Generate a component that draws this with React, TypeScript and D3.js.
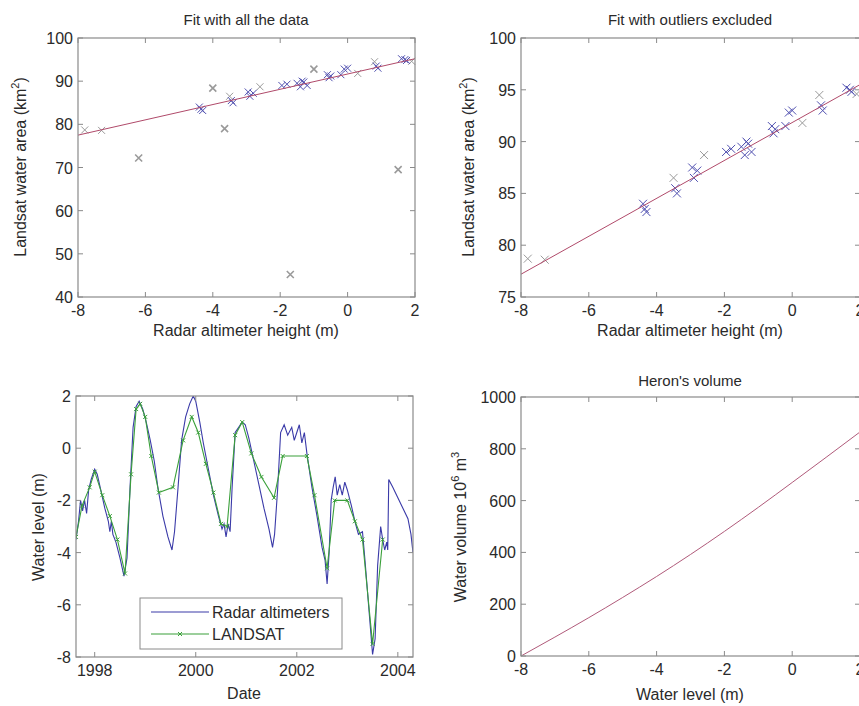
import React from "react";
import * as d3 from "d3";

// ---------- Data ----------
// Scatter: radar altimeter height (m) vs Landsat water area (km2)
const blueH = [-4.4, -4.35, -4.3, -3.45, -3.4, -2.95, -2.9, -2.8, -1.95, -1.8, -1.5, -1.4, -1.35, -1.3, -1.2, -0.6, -0.55, -0.5, -0.2, -0.1, 0.0, 0.85, 0.9, 1.6, 1.7, 1.75];
const blueA = [84.0, 83.5, 83.2, 85.5, 85.0, 87.5, 86.5, 87.2, 89.0, 89.3, 89.5, 88.7, 90.0, 89.8, 89.0, 91.5, 90.8, 91.2, 91.5, 92.8, 93.0, 93.5, 93.0, 95.2, 95.0, 94.8];
const grayH = [-7.8, -7.3, -3.5, -2.6, 0.3, 0.8, 1.9];
const grayA = [78.7, 78.6, 86.5, 88.7, 91.8, 94.5, 94.6];
const outlierH = [-6.2, -3.65, -1.7, 1.5, -4.0, -1.0];
const outlierA = [72.2, 79.0, 45.2, 69.5, 88.4, 92.8];
const fitH = [-8, 2];
const fitAllA = [77.5, 95.2];
const fitCleanA = [77.2, 95.5];

// Time series
const radarDate = [1997.63, 1997.68, 1997.72, 1997.76, 1997.8, 1997.84, 1997.88, 1997.93, 1998.0, 1998.05, 1998.12, 1998.2, 1998.27, 1998.3, 1998.33, 1998.36, 1998.42, 1998.5, 1998.58, 1998.64, 1998.7, 1998.76, 1998.82, 1998.88, 1998.95, 1999.02, 1999.1, 1999.18, 1999.25, 1999.35, 1999.45, 1999.53, 1999.58, 1999.65, 1999.72, 1999.8, 1999.88, 1999.95, 2000.0, 2000.08, 2000.15, 2000.25, 2000.35, 2000.45, 2000.52, 2000.56, 2000.6, 2000.64, 2000.68, 2000.72, 2000.78, 2000.85, 2000.92, 2000.98, 2001.05, 2001.15, 2001.25, 2001.35, 2001.45, 2001.52, 2001.56, 2001.62, 2001.68, 2001.75, 2001.82, 2001.9, 2001.95, 2002.0, 2002.05, 2002.1, 2002.15, 2002.2, 2002.3, 2002.4, 2002.5, 2002.56, 2002.6, 2002.64, 2002.68, 2002.72, 2002.76, 2002.8, 2002.85, 2002.9, 2002.95, 2003.0, 2003.08, 2003.15, 2003.22, 2003.3, 2003.35, 2003.42, 2003.5, 2003.55, 2003.6, 2003.66, 2003.7, 2003.74, 2003.78, 2003.8, 2003.82, 2003.9, 2004.0, 2004.1, 2004.2, 2004.26, 2004.3];
const radarLevel = [-3.5, -2.8, -2.0, -2.4, -2.0, -2.5, -1.6, -1.2, -0.8, -1.0, -1.6, -2.3, -2.8, -3.2, -2.8, -3.3, -3.6, -4.2, -4.9, -4.2, -1.5, 0.8, 1.6, 1.8, 1.5, 1.0, 0.3, -0.5, -1.5, -2.6, -3.4, -3.9, -3.2, -1.5, 0.3, 1.2, 1.7, 2.0, 1.8, 1.0, 0.2, -0.8, -1.8, -2.6, -3.1, -2.9, -3.4, -2.9, -3.2, -1.5, 0.6, 0.8, 1.0, 0.9, 0.4, -0.5, -1.4, -2.3, -3.1, -3.8, -3.3, -1.6, 0.6, 0.9, 0.5, 0.8, 0.3, 0.6, 0.9, 0.2, 0.6, -0.2, -1.5, -2.6, -3.8, -4.3, -5.2, -4.0, -2.0, -1.5, -1.1, -1.8, -1.4, -1.8, -1.3, -1.6, -2.2, -2.8, -3.3, -3.2, -4.3, -6.0, -7.9, -7.3, -4.5, -3.0, -3.5, -3.9, -3.6, -3.9, -1.2, -1.5, -1.9, -2.3, -2.7, -3.3, -4.0];
const landsatDate = [1997.63, 1997.75, 1997.9, 1998.0, 1998.15, 1998.3, 1998.45, 1998.6, 1998.72, 1998.82, 1998.9, 1999.0, 1999.12, 1999.27, 1999.55, 1999.75, 1999.92, 2000.05, 2000.2, 2000.35, 2000.5, 2000.62, 2000.78, 2000.92, 2001.1, 2001.3, 2001.55, 2001.72, 2002.2, 2002.35, 2002.6, 2002.75, 2003.0, 2003.15, 2003.3, 2003.5, 2003.7];
const landsatLevel = [-3.4, -2.2, -1.5, -0.9, -1.8, -2.6, -3.5, -4.8, -1.0, 1.5, 1.7, 1.2, -0.3, -1.7, -1.5, 0.3, 1.2, 0.6, -0.6, -1.7, -2.9, -3.0, 0.5, 1.0, -0.2, -1.1, -1.9, -0.3, -0.3, -1.8, -4.6, -2.0, -2.0, -2.8, -3.5, -7.5, -3.5];

// Volume curve
const volLevel = [-8, -7, -6, -5, -4, -3, -2, -1, 0, 1, 2];
const volValue = [0, 73, 148, 226, 307, 392, 481, 574, 670, 767, 865];

// Ticks
const scatterXTicks = [-8, -6, -4, -2, 0, 2];
const allYTicks = [40, 50, 60, 70, 80, 90, 100];
const cleanYTicks = [75, 80, 85, 90, 95, 100];
const dateTicks = [1998, 2000, 2002, 2004];
const levelTicks = [-8, -6, -4, -2, 0, 2];
const volTicks = [0, 200, 400, 600, 800, 1000];

const FONT = "'Liberation Sans', Arial, sans-serif";
const TXT = "#2a2a2a";
const BOX = "#8a8a8a";
const TICK_FS = 16;
const LABEL_FS = 16;
const TITLE_FS = 15;

type AxProps = {
  x: d3.ScaleLinear<number, number>;
  y: d3.ScaleLinear<number, number>;
  xt: number[];
  yt: number[];
};

function Frame({ x, y, xt, yt }: AxProps) {
  const [x0, x1] = x.range();
  const [y0, y1] = y.range(); // y0 bottom, y1 top
  const tl = 5;
  return (
    <g>
      <rect x={x0} y={y1} width={x1 - x0} height={y0 - y1} fill="none" stroke={BOX} strokeWidth={1.2} />
      {xt.map((t) => (
        <g key={"x" + t}>
          <line x1={x(t)} x2={x(t)} y1={y0} y2={y0 - tl} stroke={BOX} />
          <line x1={x(t)} x2={x(t)} y1={y1} y2={y1 + tl} stroke={BOX} />
          <text x={x(t)} y={y0 + 19} textAnchor="middle" fontSize={TICK_FS} fill={TXT} fontFamily={FONT}>
            {String(t)}
          </text>
        </g>
      ))}
      {yt.map((t) => (
        <g key={"y" + t}>
          <line x1={x0} x2={x0 + tl} y1={y(t)} y2={y(t)} stroke={BOX} />
          <line x1={x1} x2={x1 - tl} y1={y(t)} y2={y(t)} stroke={BOX} />
          <text x={x0 - 5} y={y(t) + 6} textAnchor="end" fontSize={TICK_FS} fill={TXT} fontFamily={FONT}>
            {String(t)}
          </text>
        </g>
      ))}
    </g>
  );
}

function XMark({ cx, cy, s, color, w = 1 }: { cx: number; cy: number; s: number; color: string; w?: number }) {
  return (
    <path d={`M${cx - s},${cy - s}L${cx + s},${cy + s}M${cx - s},${cy + s}L${cx + s},${cy - s}`} stroke={color} strokeWidth={w} fill="none" />
  );
}

function YLabel({ x, y, children }: { x: number; y: number; children: React.ReactNode }) {
  return (
    <text transform={`translate(${x},${y}) rotate(-90)`} textAnchor="middle" fontSize={LABEL_FS} fill={TXT} fontFamily={FONT}>
      {children}
    </text>
  );
}

function Label({ x, y, children, size = LABEL_FS }: { x: number; y: number; children: React.ReactNode; size?: number }) {
  return (
    <text x={x} y={y} textAnchor="middle" fontSize={size} fill={TXT} fontFamily={FONT}>
      {children}
    </text>
  );
}

export default function App() {
  const W = 859, H = 706;

  const xTL = d3.scaleLinear().domain([-8, 2]).range([78, 415]);
  const yTL = d3.scaleLinear().domain([40, 100]).range([297, 38]);
  const xTR = d3.scaleLinear().domain([-8, 2]).range([521, 860]);
  const yTR = d3.scaleLinear().domain([75, 100]).range([297, 38]);
  const xBL = d3.scaleLinear().domain([1997.63, 2004.3]).range([76, 413]);
  const yBL = d3.scaleLinear().domain([-8, 2]).range([657, 396]);
  const xBR = d3.scaleLinear().domain([-8, 2]).range([521, 860]);
  const yBR = d3.scaleLinear().domain([0, 1000]).range([656, 397]);

  const blueC = "#5050b0";
  const grayC = "#9a9a9a";
  const fitC = "#b04a6a";

  const radarLine = d3.line<number>().x((_, i) => xBL(radarDate[i])).y((d) => yBL(d));
  const landsatLine = d3.line<number>().x((_, i) => xBL(landsatDate[i])).y((d) => yBL(d));
  const volLine = d3.line<number>().x((_, i) => xBR(volLevel[i])).y((d) => yBR(d)).curve(d3.curveMonotoneX);

  const sup = (s: string) => (
    <tspan dy={-7} fontSize={11}>{s}</tspan>
  );

  return (
    <div style={{ position: "fixed", left: 0, top: 0, width: W, height: H, background: "#fff" }}>
      <svg width={W} height={H} viewBox={`0 0 ${W} ${H}`} style={{ display: "block" }}>
        <rect width={W} height={H} fill="#fff" />
        <defs>
          <clipPath id="clipBL">
            <rect x={76} y={396} width={337} height={261} />
          </clipPath>
        </defs>

        {/* ---------- Top-left ---------- */}
        <Label x={246} y={25} size={TITLE_FS}>Fit with all the data</Label>
        {outlierH.map((h, i) => (
          <XMark key={"o" + i} cx={xTL(h)} cy={yTL(outlierA[i])} s={3.5} color={grayC} w={1.6} />
        ))}
        {grayH.map((h, i) => (
          <XMark key={"g" + i} cx={xTL(h)} cy={yTL(grayA[i])} s={3.5} color={grayC} />
        ))}
        {blueH.map((h, i) => (
          <XMark key={"b" + i} cx={xTL(h)} cy={yTL(blueA[i])} s={3.5} color={blueC} />
        ))}
        <line x1={xTL(fitH[0])} y1={yTL(fitAllA[0])} x2={xTL(fitH[1])} y2={yTL(fitAllA[1])} stroke={fitC} strokeWidth={1} />
        <Frame x={xTL} y={yTL} xt={scatterXTicks} yt={allYTicks} />
        <YLabel x={26} y={167}>
          Landsat water area (km{sup("2")}<tspan dy={7}>)</tspan>
        </YLabel>
        <Label x={246} y={336}>Radar altimeter height (m)</Label>

        {/* ---------- Top-right ---------- */}
        <Label x={690} y={25} size={TITLE_FS}>Fit with outliers excluded</Label>
        {grayH.map((h, i) => (
          <XMark key={"g2" + i} cx={xTR(h)} cy={yTR(grayA[i])} s={4} color={grayC} />
        ))}
        {blueH.map((h, i) => (
          <XMark key={"b2" + i} cx={xTR(h)} cy={yTR(blueA[i])} s={4} color={blueC} />
        ))}
        <line x1={xTR(fitH[0])} y1={yTR(fitCleanA[0])} x2={xTR(fitH[1])} y2={yTR(fitCleanA[1])} stroke={fitC} strokeWidth={1} />
        <Frame x={xTR} y={yTR} xt={scatterXTicks} yt={cleanYTicks} />
        <YLabel x={474} y={167}>
          Landsat water area (km{sup("2")}<tspan dy={7}>)</tspan>
        </YLabel>
        <Label x={690} y={336}>Radar altimeter height (m)</Label>

        {/* ---------- Bottom-left ---------- */}
        <g clipPath="url(#clipBL)">
          <path d={radarLine(radarLevel) || ""} fill="none" stroke="#3a3aa8" strokeWidth={1.1} />
          <path d={landsatLine(landsatLevel) || ""} fill="none" stroke="#3aa03a" strokeWidth={1.1} />
          {landsatLevel.map((v, i) => (
            <XMark key={"l" + i} cx={xBL(landsatDate[i])} cy={yBL(v)} s={2} color="#3aa03a" />
          ))}
        </g>
        <Frame x={xBL} y={yBL} xt={dateTicks} yt={levelTicks} />
        <YLabel x={44} y={527}>Water level (m)</YLabel>
        <Label x={244} y={699}>Date</Label>
        {/* legend */}
        <g>
          <rect x={140} y={598} width={202} height={51} fill="#fff" stroke={BOX} strokeWidth={1} />
          <line x1={151} x2={209} y1={612} y2={612} stroke="#3a3aa8" strokeWidth={1.1} />
          <text x={212} y={618} fontSize={16} fill={TXT} fontFamily={FONT}>Radar altimeters</text>
          <line x1={151} x2={209} y1={634} y2={634} stroke="#3aa03a" strokeWidth={1.1} />
          <XMark cx={180} cy={634} s={2} color="#3aa03a" />
          <text x={212} y={640} fontSize={16} fill={TXT} fontFamily={FONT}>LANDSAT</text>
        </g>

        {/* ---------- Bottom-right ---------- */}
        <Label x={690} y={386} size={TITLE_FS}>Heron's volume</Label>
        <path d={volLine(volValue) || ""} fill="none" stroke="#b05a7a" strokeWidth={1} />
        <Frame x={xBR} y={yBR} xt={levelTicks} yt={volTicks} />
        <YLabel x={466} y={527}>
          Water volume 10{sup("6")}<tspan dy={7}> m</tspan>{sup("3")}
        </YLabel>
        <Label x={690} y={700}>Water level (m)</Label>
      </svg>
    </div>
  );
}
